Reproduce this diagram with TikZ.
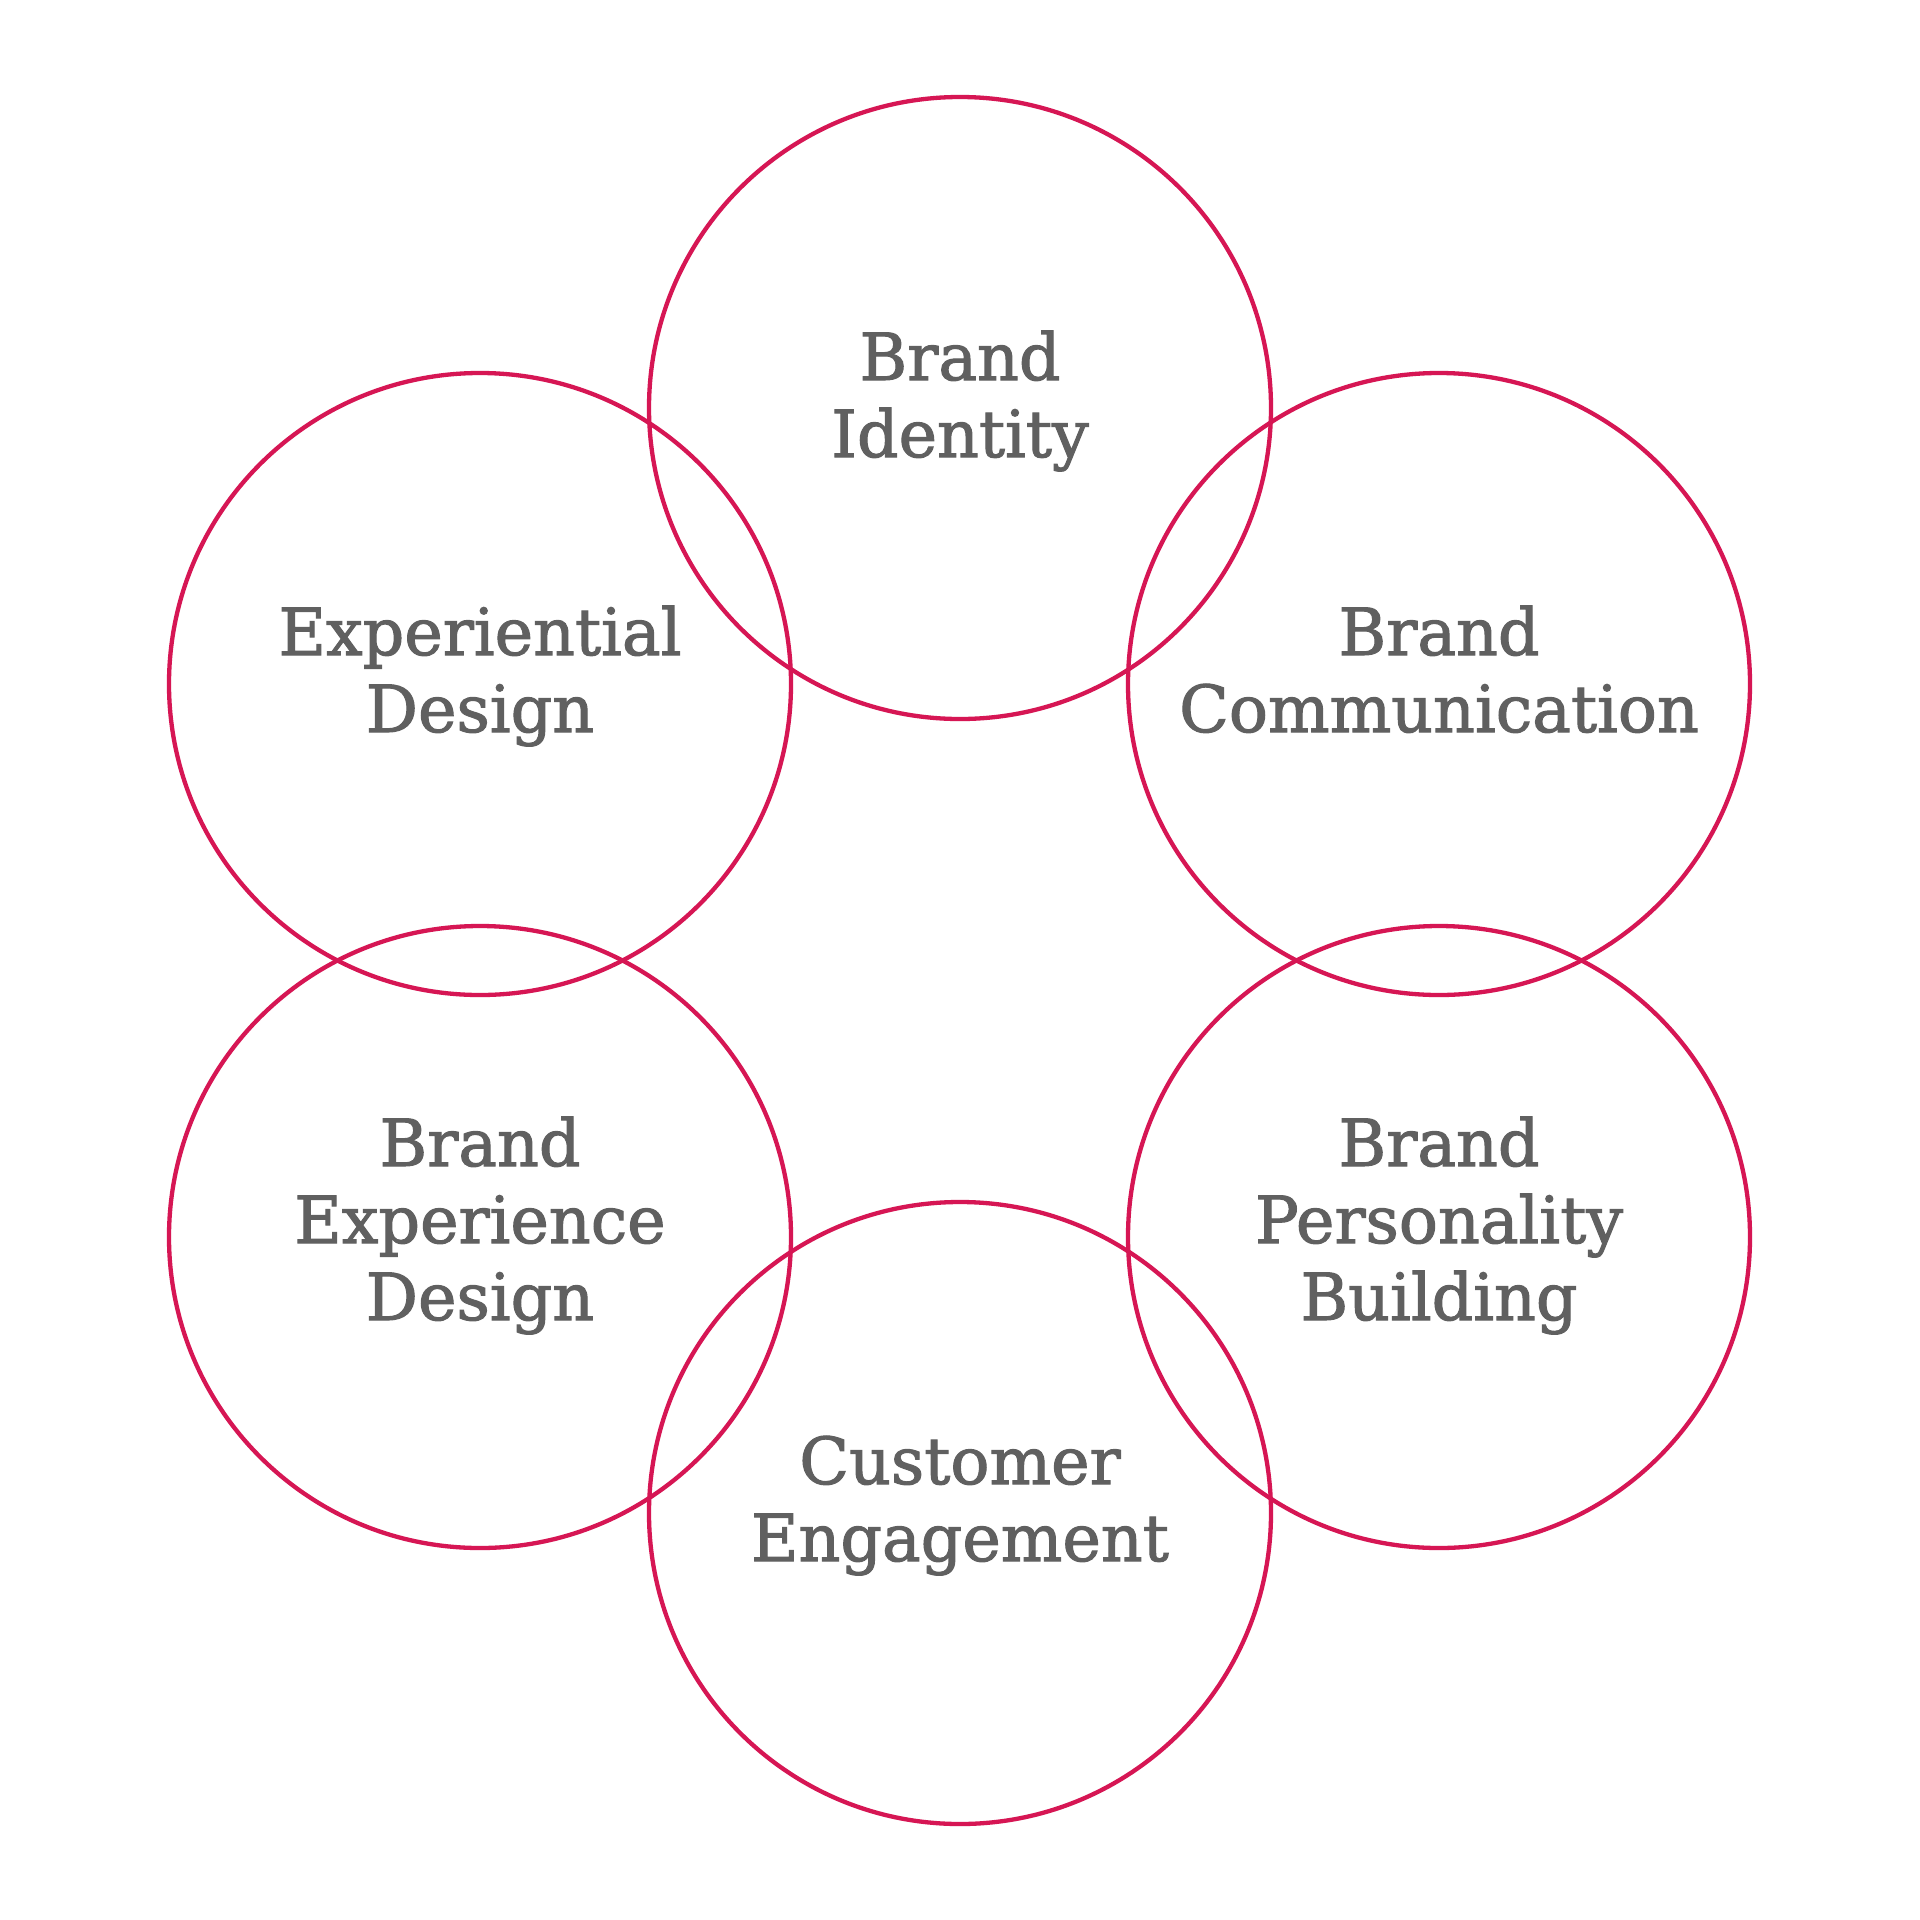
\documentclass[tikz,border=0pt]{standalone}
\usepackage{fontspec}
\setmainfont{DejaVu Serif}
\newfontfamily\lblfont{DejaVu Serif}[FakeBold=1.6]
\definecolor{ringred}{RGB}{214,22,84}
\definecolor{labelgray}{RGB}{96,96,96}
\begin{document}
\begin{tikzpicture}[x=1pt,y=-1pt,
  ring/.style={draw=ringred,line width=4.3pt,fill=none},
  lbl/.style={text=labelgray,align=center,inner sep=0pt,anchor=base,
    font=\lblfont\fontsize{65}{77}\selectfont}]
\fill[white] (0,0) rectangle (1920,1920);
\useasboundingbox (0,0) rectangle (1920,1920);
\draw[ring] (960,408) circle (311);
\draw[ring] (480,684) circle (311);
\draw[ring] (1439,684) circle (311);
\draw[ring] (480,1237) circle (311);
\draw[ring] (1439,1237) circle (311);
\draw[ring] (960,1513) circle (311);
\node[lbl] (identity) at (960,457) {Brand\\Identity};
\node[lbl] (experiential) at (480,732) {Experiential\\Design};
\node[lbl] (communication) at (1439,732) {Brand\\Communication};
\node[lbl] (experience) at (480,1320) {Brand\\Experience\\Design};
\node[lbl] (personality) at (1439,1320) {Brand\\Personality\\Building};
\node[lbl] (engagement) at (960,1561) {Customer\\Engagement};
\end{tikzpicture}
\end{document}
